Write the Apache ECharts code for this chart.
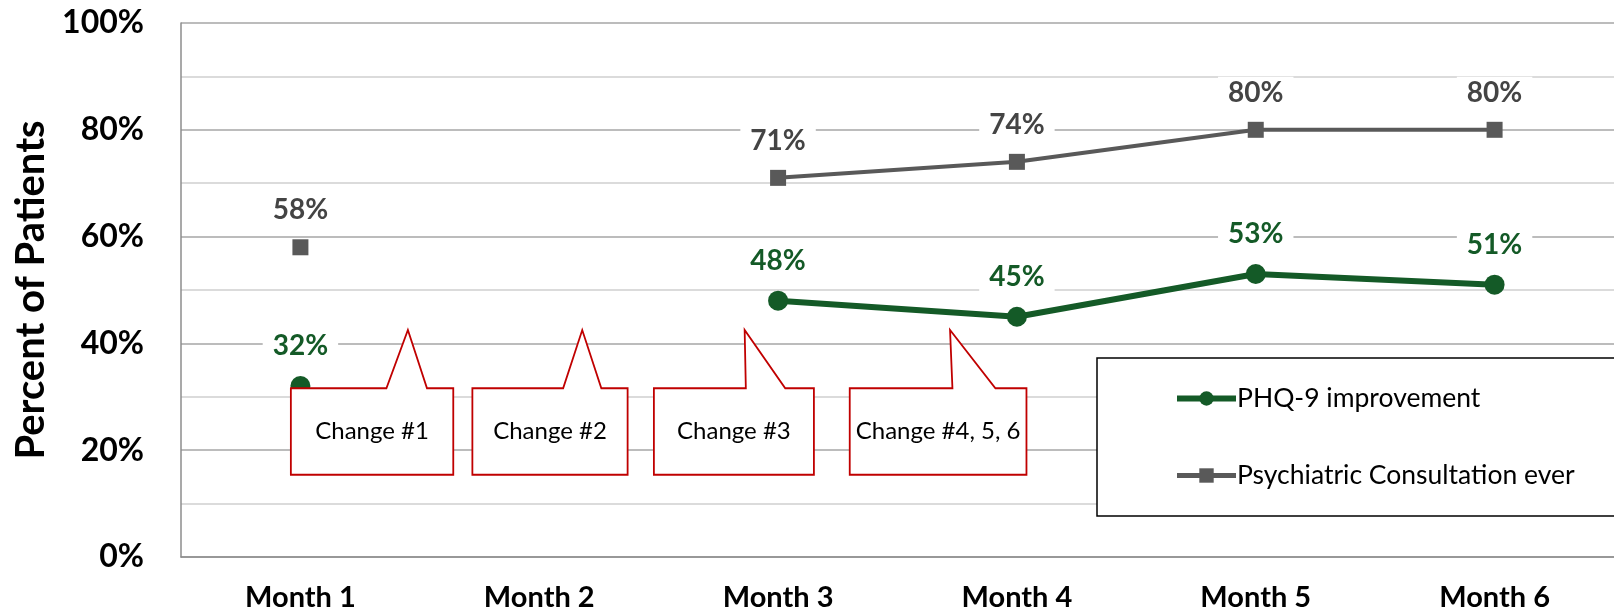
<!DOCTYPE html>
<html>
<head>
<meta charset="utf-8">
<script src="https://cdn.jsdelivr.net/npm/echarts@6/dist/echarts.min.js"></script>
<style>html,body{margin:0;padding:0;background:#fff}#c{width:1614px;height:610px}</style>
</head>
<body>
<div id="c"></div>
<script>
const months = ['Month 1', 'Month 2', 'Month 3', 'Month 4', 'Month 5', 'Month 6'];
const phq9 = [32, null, 48, 45, 53, 51];
const psych = [58, null, 71, 74, 80, 80];
const seriesNames = ['PHQ-9 improvement', 'Psychiatric Consultation ever'];
const calloutTexts = ['Change #1', 'Change #2', 'Change #3', 'Change #4, 5, 6'];

const FONT = 'Lato';
const GREEN = '#145A27';
const GRAY = '#595959';
const RED = '#C00000';

// callout geometry (category units, percent units) – annotation layout
const calloutGeom = [
  {l: -0.04, r: 0.64, bl: 0.36, br: 0.53, t: 0.45},
  {l: 0.72, r: 1.37, bl: 1.10, br: 1.26, t: 1.18},
  {l: 1.48, r: 2.15, bl: 1.865, br: 2.03, t: 1.86},
  {l: 2.30, r: 3.04, bl: 2.73, br: 2.91, t: 2.72}
];
const boxTop = 31.6, boxBottom = 15.4, tipY = 42.5;

const chart = echarts.init(document.getElementById('c'), null, {renderer: 'canvas'});
const option = {
  animation: false,
  textStyle: {fontFamily: FONT},
  grid: {left: 181, right: 0, top: 23, bottom: 53, containLabel: false, outerBoundsMode: 'none'},
  legend: {
    orient: 'vertical',
    left: 1097, top: 358,
    padding: [27, 300, 27, 77],
    borderColor: '#000', borderWidth: 1.5,
    backgroundColor: '#fff',
    itemWidth: 59, itemHeight: 18, itemGap: 50,
    textStyle: {fontFamily: FONT, fontSize: 26.5, color: '#000', padding: [0,0,0,-4]},
    data: [
      {name: seriesNames[0], lineStyle: {width: 6, color: GREEN}},
      {name: seriesNames[1], lineStyle: {width: 5, color: GRAY}}
    ],
    z: 10
  },
  xAxis: {
    type: 'category',
    data: months,
    boundaryGap: true,
    axisLine: {show: true, lineStyle: {color: '#8c8c8c', width: 1.5}},
    axisTick: {show: false},
    axisLabel: {fontFamily: FONT, fontWeight: 'bold', fontSize: 29, color: '#000', margin: 26}
  },
  yAxis: {
    type: 'value',
    min: 0, max: 100, interval: 20,
    name: 'Percent of Patients',
    nameLocation: 'middle', nameRotate: 90, nameGap: 127,
    nameTextStyle: {fontFamily: FONT, fontWeight: 'bold', fontSize: 40, color: '#000'},
    axisLine: {show: true, lineStyle: {color: '#8c8c8c', width: 1.5}},
    axisTick: {show: false},
    axisLabel: {formatter: '{value}%', fontFamily: FONT, fontWeight: 'bold', fontSize: 32, color: '#000', margin: 37},
    splitLine: {show: true, lineStyle: {color: '#a6a6a6', width: 1.5}},
    minorTick: {show: false, splitNumber: 2},
    minorSplitLine: {show: true, lineStyle: {color: '#cfcfcf', width: 1.5}}
  },
  series: [
    {
      name: seriesNames[0], type: 'line', data: phq9,
      connectNulls: false, showSymbol: true, showAllSymbol: true,
      symbol: 'circle', symbolSize: 20,
      lineStyle: {color: GREEN, width: 6},
      itemStyle: {color: GREEN},
      label: {show: true, position: 'top', distance: 14, formatter: '{c}%',
        fontFamily: FONT, fontWeight: 'bold', fontSize: 28, color: GREEN,
        backgroundColor: '#fff', padding: [2, 10]},
      z: 3
    },
    {
      name: seriesNames[1], type: 'line', data: psych,
      connectNulls: false, showSymbol: true, showAllSymbol: true,
      symbol: 'rect', symbolSize: 16,
      lineStyle: {color: GRAY, width: 4},
      itemStyle: {color: GRAY},
      label: {show: true, position: 'top', distance: 13, formatter: '{c}%',
        fontFamily: FONT, fontWeight: 'bold', fontSize: 28, color: '#444444',
        backgroundColor: '#fff', padding: [2, 10]},
      z: 3
    }
  ]
};
chart.setOption(option);

function buildCallouts() {
  const c0 = chart.convertToPixel({xAxisIndex: 0}, 0);
  const c1 = chart.convertToPixel({xAxisIndex: 0}, 1);
  const w = c1 - c0;
  const X = u => c0 + u * w;
  const Y = v => chart.convertToPixel({yAxisIndex: 0}, v);
  const yt = Y(boxTop), yb = Y(boxBottom), ytip = Y(tipY);
  const els = [];
  calloutGeom.forEach((g, i) => {
    els.push({
      type: 'polygon', z: 50,
      shape: {points: [
        [X(g.l), yt], [X(g.bl), yt], [X(g.t), ytip], [X(g.br), yt],
        [X(g.r), yt], [X(g.r), yb], [X(g.l), yb]
      ]},
      style: {fill: '#fff', stroke: RED, lineWidth: 1.8}
    });
    els.push({
      type: 'text', z: 51,
      x: (X(g.l) + X(g.r)) / 2, y: (yt + yb) / 2,
      style: {text: calloutTexts[i], fontFamily: FONT, fontSize: 24, fill: '#000',
        align: 'center', verticalAlign: 'middle'}
    });
  });
  chart.setOption({graphic: {elements: els}});
}
buildCallouts();
</script>
</body>
</html>
